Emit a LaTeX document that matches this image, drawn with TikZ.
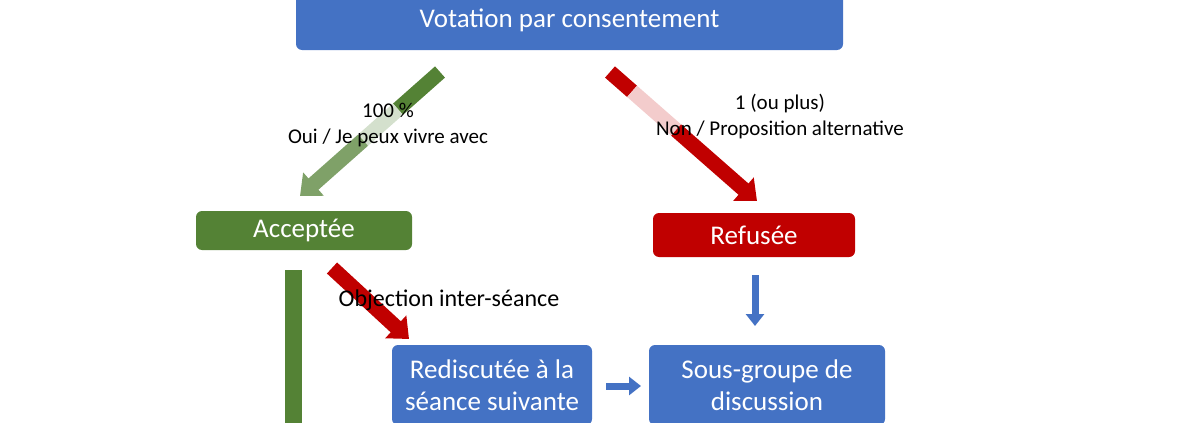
\documentclass[tikz,border=0pt]{standalone}
\usepackage{fontspec}
\setmainfont{Carlito}
\usetikzlibrary{arrows.meta,calc}
\definecolor{boxblue}{HTML}{4472C4}
\definecolor{boxgreen}{HTML}{548235}
\definecolor{boxred}{HTML}{C00000}
\begin{document}
\begin{tikzpicture}[x=1pt,y=-1pt,
  boxnode/.style={rounded corners=6pt, text=white, font=\fontsize{27}{32}\selectfont, align=center, inner sep=0pt},
  labelnode/.style={font=\fontsize{21}{26}\selectfont, align=center},
  fatarrow/.style={line width=15pt, -{Triangle[width=30pt,length=18pt]}},
  thinarrow/.style={line width=7pt, -{Triangle[width=18pt,length=12pt]}, boxblue}]
  \useasboundingbox (0,0) rectangle (1200,423);
  %Boxes
  \node[boxnode, fill=boxblue, minimum width=547pt, minimum height=60pt](vote) at (569.5,20){Votation par consentement};
  \node[boxnode, fill=boxgreen, minimum width=216pt, minimum height=39pt](accept) at (304,230.5){Acceptée};
  \node[boxnode, fill=boxred, minimum width=202pt, minimum height=44pt](refuse) at (754,235){Refusée};
  \node[boxnode, fill=boxblue, minimum width=200pt, minimum height=80pt](rediscuss) at (492,385){Rediscutée à la\\séance suivante};
  \node[boxnode, fill=boxblue, minimum width=236pt, minimum height=80pt](subgroup) at (767,385){Sous-groupe de\\discussion};
  %Arrow ends
  \coordinate (gstart) at (440,72);
  \coordinate (gend) at (300,196);
  \coordinate (rstart) at (610,72);
  \coordinate (rend) at (757,201);
  \coordinate (ostart) at (332,268);
  \coordinate (oend) at (409,339);
  %Arrows
  \draw[line width=15pt, boxgreen] (gstart) -- ($(gstart)!0.3!(gend)$) coordinate (g1);
  \draw[line width=15pt, boxgreen!25!white] (g1) -- ($(gstart)!0.55!(gend)$) coordinate (g2);
  \draw[fatarrow, boxgreen!75!white] (g2) -- (gend);
  \draw[line width=15pt, boxred] (rstart) -- ($(rstart)!0.15!(rend)$) coordinate (r1);
  \draw[line width=15pt, boxred!20!white] (r1) -- ($(rstart)!0.45!(rend)$) coordinate (r2);
  \draw[fatarrow, boxred] (r2) -- (rend);
  \draw[fatarrow, boxred] (ostart) -- (oend);
  \fill[boxgreen] (285,270) rectangle (302,423);
  \draw[thinarrow] (755,275) -- (755,326);
  \draw[thinarrow] (606,386) -- (641,386);
  %Labels
  \node[labelnode](yeslabel) at (388,125){100 \%\\Oui / Je peux vivre avec};
  \node[labelnode](nolabel) at (780,117){1 (ou plus)\\Non / Proposition alternative};
  \node[labelnode, font=\fontsize{24}{29}\selectfont](objection) at (449,300){Objection inter-séance};
\end{tikzpicture}
\end{document}
